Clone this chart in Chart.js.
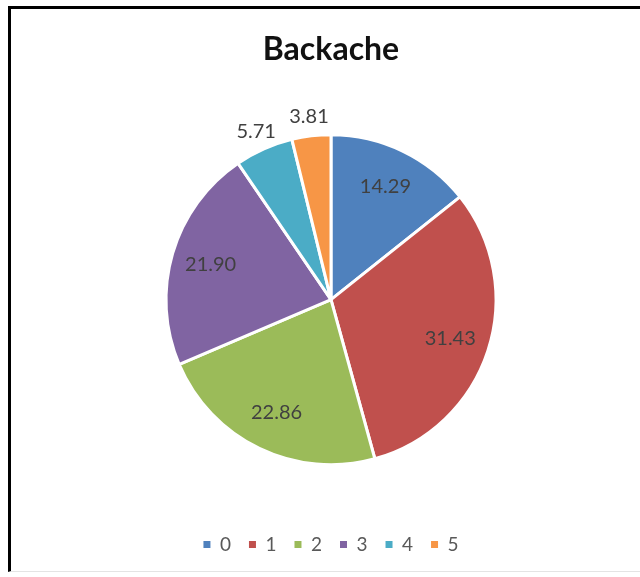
<!DOCTYPE html>
<html>
<head>
<meta charset="utf-8">
<title>Backache</title>
<script src="https://cdn.jsdelivr.net/npm/chart.js@4.4.0/dist/chart.umd.min.js"></script>
<style>
  html, body { margin: 0; padding: 0; background: #fff; }
  body { width: 640px; height: 577px; position: relative; overflow: hidden; }
  #frame {
    position: absolute; left: 8px; top: 6px; width: 640px; height: 562px;
    border-top: 3px solid #000; border-left: 3px solid #000; border-bottom: 1px solid #e4e4e4;
  }
  #wrap { position: absolute; left: 0; top: 0; width: 640px; height: 577px; }
</style>
</head>
<body>
<div id="frame"></div>
<div id="wrap"><canvas id="pie"></canvas></div>
<script>
// scores and their share in percent
const categories = ["0", "1", "2", "3", "4", "5"];
const shares = [14.29, 31.43, 22.86, 21.90, 5.71, 3.81];
const sliceColors = ["#4f81bd", "#c0504d", "#9bbb59", "#8064a2", "#4bacc6", "#f79646"];

// writes the value on each slice, small slices get it just outside
const sliceLabels = {
  id: "sliceLabels",
  afterDatasetsDraw(chart) {
    const ctx = chart.ctx;
    const meta = chart.getDatasetMeta(0);
    ctx.save();
    ctx.font = "20px Lato";
    ctx.fillStyle = "#404040";
    ctx.textAlign = "center";
    ctx.textBaseline = "middle";
    meta.data.forEach(function (arc, i) {
      const p = arc.getProps(["x", "y", "startAngle", "endAngle", "outerRadius"], true);
      const mid = (p.startAngle + p.endAngle) / 2;
      const val = shares[i];
      const r = val < 8 ? p.outerRadius + 19 : p.outerRadius * 0.76;
      ctx.fillText(val.toFixed(2), p.x + Math.cos(mid) * r, p.y + Math.sin(mid) * r);
    });
    ctx.restore();
  }
};

new Chart(document.getElementById("pie"), {
  type: "pie",
  data: {
    labels: categories,
    datasets: [{
      data: shares,
      backgroundColor: sliceColors,
      borderColor: "#ffffff",
      borderWidth: 3,
      radius: 165
    }]
  },
  options: {
    responsive: true,
    maintainAspectRatio: false,
    animation: false,
    layout: { padding: { left: 22, right: 0, top: 0, bottom: 13 } },
    plugins: {
      tooltip: { enabled: false },
      title: {
        display: true,
        text: "Backache",
        color: "#111",
        font: { family: "Lato", size: 32, weight: "bold" },
        padding: { top: 30, bottom: 14 }
      },
      legend: {
        position: "bottom",
        labels: {
          color: "#595959",
          font: { family: "Lato", size: 19 },
          boxWidth: 7,
          boxHeight: 7,
          padding: 18,
          generateLabels(chart) {
            const items = Chart.overrides.pie.plugins.legend.labels.generateLabels(chart);
            return items.map(function (it) { it.lineWidth = 0; return it; });
          }
        }
      }
    }
  },
  plugins: [sliceLabels]
});
</script>
</body>
</html>
